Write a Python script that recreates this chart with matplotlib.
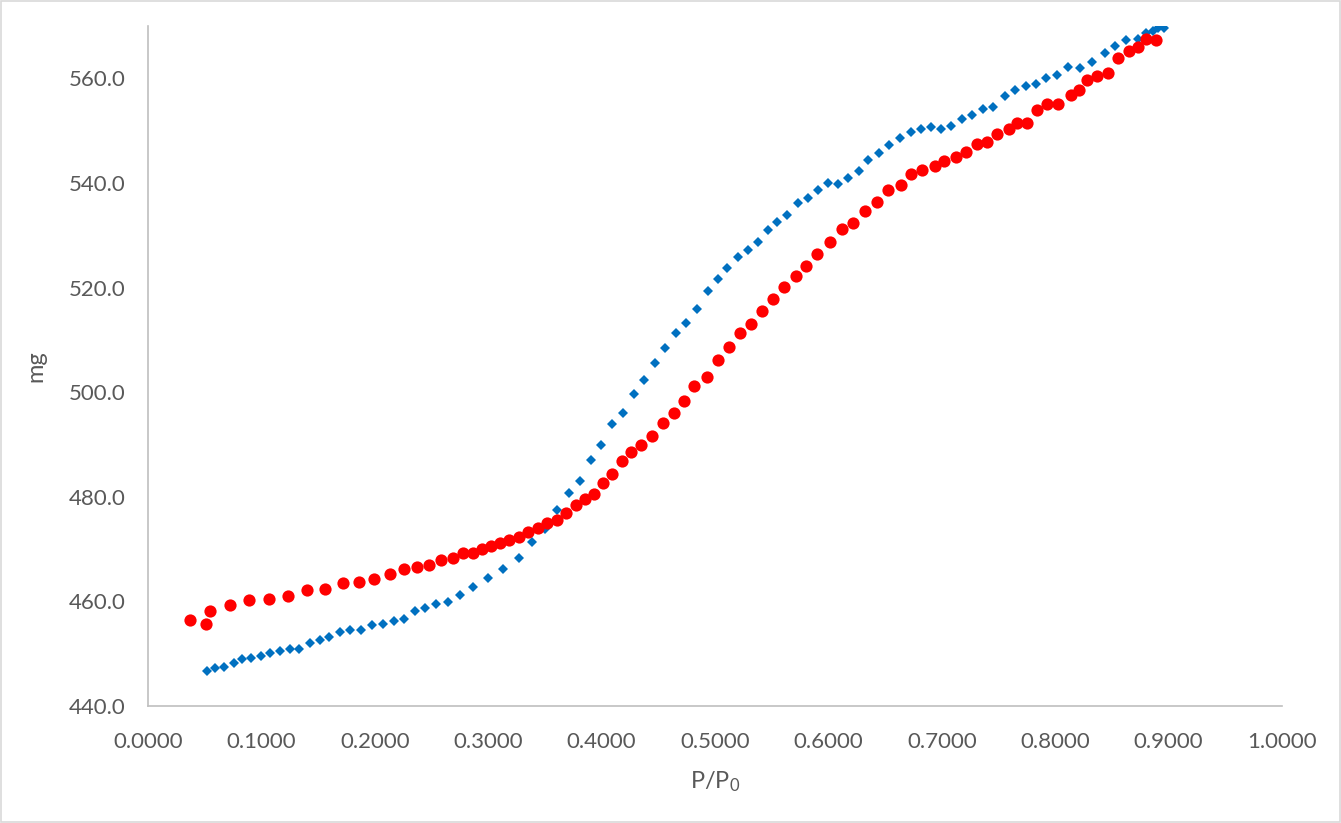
import matplotlib.pyplot as plt
from matplotlib.patches import Rectangle
from matplotlib.ticker import MultipleLocator, FormatStrFormatter

# red circles
red_x = [0.0370, 0.0511, 0.0547, 0.0723, 0.0891, 0.1067, 0.1235, 0.1402, 0.1561, 0.1720,
         0.1861, 0.1993, 0.2134, 0.2257, 0.2372, 0.2478, 0.2584, 0.2690, 0.2778, 0.2866,
         0.2945, 0.3025, 0.3104, 0.3183, 0.3272, 0.3351, 0.3439, 0.3519, 0.3607, 0.3686,
         0.3774, 0.3854, 0.3933, 0.4012, 0.4092, 0.4180, 0.4259, 0.4347, 0.4444, 0.4541,
         0.4638, 0.4727, 0.4815, 0.4929, 0.5026, 0.5123, 0.5220, 0.5317, 0.5414, 0.5511,
         0.5608, 0.5714, 0.5802, 0.5899, 0.6014, 0.6120, 0.6217, 0.6323, 0.6429, 0.6526,
         0.6640, 0.6728, 0.6825, 0.6940, 0.7019, 0.7125, 0.7213, 0.7310, 0.7399, 0.7487,
         0.7593, 0.7663, 0.7751, 0.7840, 0.7928, 0.8025, 0.8139, 0.8210, 0.8280, 0.8369,
         0.8466, 0.8554, 0.8651, 0.8730, 0.8801, 0.8889]
red_y = [456.4, 455.7, 458.2, 459.3, 460.3, 460.4, 461.0, 462.2, 462.4, 463.5,
         463.7, 464.3, 465.2, 466.2, 466.6, 466.9, 467.9, 468.3, 469.2, 469.2,
         470.0, 470.6, 471.1, 471.7, 472.3, 473.2, 474.0, 475.0, 475.5, 476.9,
         478.4, 479.6, 480.5, 482.6, 484.3, 486.8, 488.5, 489.9, 491.6, 494.1,
         496.0, 498.3, 501.1, 502.9, 506.1, 508.6, 511.3, 513.0, 515.5, 517.8,
         520.1, 522.2, 524.1, 526.4, 528.7, 531.1, 532.3, 534.6, 536.3, 538.6,
         539.6, 541.7, 542.4, 543.2, 544.1, 544.9, 545.9, 547.4, 547.8, 549.3,
         550.4, 551.4, 551.4, 553.9, 555.0, 555.0, 556.9, 557.7, 559.6, 560.4,
         561.1, 563.8, 565.2, 565.9, 567.6, 567.3]

# blue diamonds
blue_x = [0.0520, 0.0591, 0.0670, 0.0758, 0.0829, 0.0908, 0.0996, 0.1076, 0.1164, 0.1252,
          0.1332, 0.1429, 0.1517, 0.1596, 0.1693, 0.1781, 0.1878, 0.1975, 0.2072, 0.2169,
          0.2257, 0.2354, 0.2443, 0.2540, 0.2646, 0.2751, 0.2866, 0.2998, 0.3131, 0.3272,
          0.3386, 0.3501, 0.3607, 0.3713, 0.3810, 0.3907, 0.3995, 0.4092, 0.4189, 0.4286,
          0.4374, 0.4471, 0.4559, 0.4656, 0.4744, 0.4841, 0.4938, 0.5026, 0.5106, 0.5203,
          0.5291, 0.5379, 0.5467, 0.5547, 0.5635, 0.5732, 0.5820, 0.5908, 0.5996, 0.6085,
          0.6173, 0.6270, 0.6349, 0.6446, 0.6534, 0.6631, 0.6728, 0.6817, 0.6905, 0.6993,
          0.7081, 0.7178, 0.7266, 0.7363, 0.7451, 0.7557, 0.7646, 0.7743, 0.7831, 0.7919,
          0.8016, 0.8113, 0.8219, 0.8325, 0.8439, 0.8527, 0.8624, 0.8730, 0.8801, 0.8862,
          0.8907, 0.8959]
blue_y = [446.7, 447.3, 447.5, 448.2, 449.0, 449.2, 449.6, 450.1, 450.5, 450.9,
          450.9, 452.0, 452.6, 453.2, 454.1, 454.5, 454.5, 455.5, 455.7, 456.2,
          456.6, 458.2, 458.7, 459.5, 459.9, 461.2, 462.7, 464.5, 466.2, 468.3,
          471.3, 473.8, 477.5, 480.7, 483.0, 487.0, 489.9, 493.9, 496.0, 499.6,
          502.3, 505.5, 508.4, 511.3, 513.2, 515.9, 519.3, 521.6, 523.7, 525.8,
          527.1, 528.7, 531.0, 532.5, 533.8, 536.1, 537.1, 538.6, 539.9, 539.7,
          540.9, 542.2, 544.3, 545.7, 547.2, 548.5, 549.7, 550.3, 550.6, 550.3,
          550.8, 552.2, 552.9, 554.1, 554.5, 556.6, 557.7, 558.5, 559.0, 560.0,
          560.6, 562.1, 561.9, 563.2, 564.8, 566.1, 567.3, 567.5, 568.6, 569.0,
          569.6, 569.7]

plt.rcParams['font.family'] = ['Lato', 'DejaVu Sans']
plt.rcParams['mathtext.fontset'] = 'custom'
plt.rcParams['mathtext.rm'] = 'Lato'
text_color = '#595959'

fig = plt.figure(figsize=(13.41, 8.23), dpi=100)
ax = fig.add_axes([148 / 1341, 117 / 823, 1134 / 1341, 680 / 823])

# chart border
fig.patches.append(Rectangle((0.001, 0.001), 0.998, 0.998, transform=fig.transFigure,
                             fill=False, edgecolor='#D9D9D9', linewidth=1.2))

ax.plot(blue_x, blue_y, linestyle='none', marker='D', markersize=5.3,
        color='#0070C0', markeredgewidth=0, zorder=2)
ax.plot(red_x, red_y, linestyle='none', marker='o', markersize=8.8,
        color='#FF0000', markeredgewidth=0, zorder=3)

ax.set_xlim(0, 1.0)
ax.set_ylim(440, 570)
ax.xaxis.set_major_locator(MultipleLocator(0.1))
ax.yaxis.set_major_locator(MultipleLocator(20))
ax.xaxis.set_major_formatter(FormatStrFormatter('%.4f'))
ax.yaxis.set_major_formatter(FormatStrFormatter('%.1f'))

for side in ['top', 'right']:
    ax.spines[side].set_visible(False)
for side in ['left', 'bottom']:
    ax.spines[side].set_color('#BFBFBF')
    ax.spines[side].set_linewidth(1.2)

ax.tick_params(axis='both', length=0, labelsize=16, labelcolor=text_color)
ax.tick_params(axis='x', pad=19)
ax.tick_params(axis='y', pad=16)

ax.set_xlabel(r'$\mathregular{P/P_0}$', fontsize=17, color=text_color, labelpad=12)
ax.set_ylabel('mg', fontsize=17, color=text_color, labelpad=16)

plt.savefig('out.png', dpi=100)
